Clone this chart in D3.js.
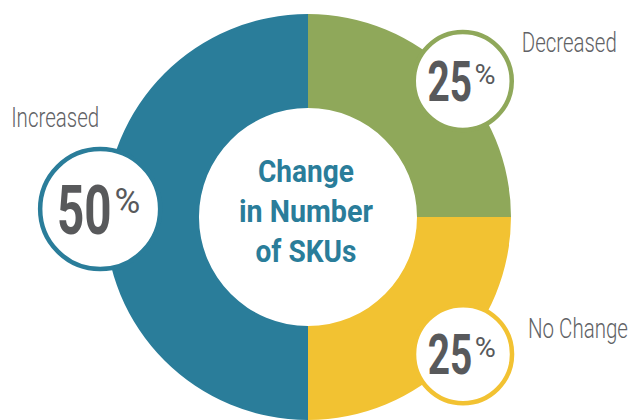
<!DOCTYPE html>
<html>
<head>
<meta charset="utf-8">
<script src="https://cdn.jsdelivr.net/npm/d3@7"></script>
<style>
  body { margin: 0; background: #fff; }
  text { font-family: Roboto, "DejaVu Sans", sans-serif; }
</style>
</head>
<body>
<div id="chart"></div>
<script>
// data
var categories = ["Increased", "Decreased", "No Change"];
var shares = [50, 25, 25];
var colors = ["#2a7d9a", "#8fa85a", "#f2c232"];
var centerTitle = ["Change", "in Number", "of SKUs"];

// dimensions
var width = 629;
var height = 420;
var cx = 308, cy = 217;
var outerR = 203, innerR = 109;

// bubble / label placement (relative to each slice)
var bubbleNudge = [2.2, 3.7, -3.5];   // degrees off the slice middle
var bubbleDist = [208, 206, 207];
var labelPos = [
  {dx: -89, dy: -82, len: 88},
  {dx: 59, dy: -29, len: 95},
  {dx: 65, dy: -16, len: 100}
];
var titleLen = [96, 134, 101];

var data = categories.map(function(c, i) {
  return {name: c, value: shares[i], color: colors[i], i: i};
});

// squeeze a text horizontally so it has the width w (condensed look)
function fit(sel, x, y, w) {
  sel.each(function(d, i) {
    var node = this;
    var xx = typeof x === "function" ? x(d, i) : x;
    var yy = typeof y === "function" ? y(d, i) : y;
    var ww = typeof w === "function" ? w(d, i) : w;
    var nat = node.getComputedTextLength();
    d3.select(node).attr("transform",
      "translate(" + xx + "," + yy + ") scale(" + (ww / nat) + ",1)");
  });
}

var svg = d3.select("#chart").append("svg")
    .attr("width", width)
    .attr("height", height);

var g = svg.append("g").attr("transform", "translate(" + cx + "," + cy + ")");

var pie = d3.pie()
    .sort(null)
    .value(function(d) { return d.value; })
    .startAngle(Math.PI)
    .endAngle(3 * Math.PI);

var arc = d3.arc().innerRadius(innerR).outerRadius(outerR);

var slices = pie(data);

g.selectAll("path.slice")
  .data(slices)
  .enter().append("path")
    .attr("class", "slice")
    .attr("d", arc)
    .attr("fill", function(d) { return d.data.color; });

// center title
g.selectAll("text.title")
  .data(centerTitle)
  .enter().append("text")
    .attr("class", "title")
    .attr("fill", colors[0])
    .attr("font-weight", "bold")
    .attr("font-size", 31)
    .text(function(d) { return d; })
    .call(fit, function(d, i) { return -2 - titleLen[i] / 2; },
               function(d, i) { return -35 + i * 40; },
               function(d, i) { return titleLen[i]; });

// bubble radius grows with the share
var rScale = d3.scaleLinear().domain([25, 50]).range([49, 60]);

var bubbles = g.selectAll("g.bubble")
  .data(slices)
  .enter().append("g")
    .attr("class", "bubble")
    .attr("transform", function(d) {
      var a = (d.startAngle + d.endAngle) / 2 + bubbleNudge[d.data.i] * Math.PI / 180;
      var r = bubbleDist[d.data.i];
      return "translate(" + (Math.sin(a) * r) + "," + (-Math.cos(a) * r) + ")";
    });

bubbles.append("circle")
    .attr("r", function(d) { return rScale(d.value); })
    .attr("fill", "#fff")
    .attr("stroke", function(d) { return d.data.color; })
    .attr("stroke-width", 4.5);

// percentage number + small % sign
bubbles.append("text")
    .attr("fill", "#58595b")
    .attr("font-weight", "bold")
    .attr("font-size", function(d) { return rScale(d.value) * 1.13; })
    .text(function(d) { return d.value; })
    .call(fit, function(d) { return -rScale(d.value) * 0.72; },
               function(d) { return rScale(d.value) * 0.41; },
               function(d) { return rScale(d.value) * 0.91; });

bubbles.append("text")
    .attr("fill", "#58595b")
    .attr("font-size", function(d) { return rScale(d.value) * 0.58; })
    .text("%")
    .call(fit, function(d) { return rScale(d.value) * 0.24; },
               function(d) { return rScale(d.value) * 0.06; },
               function(d) { return rScale(d.value) * 0.43; });

// category labels
bubbles.append("text")
    .attr("fill", "#616265")
    .attr("font-weight", 300)
    .attr("font-size", 27)
    .text(function(d) { return d.data.name; })
    .call(fit, function(d) { return labelPos[d.data.i].dx; },
               function(d) { return labelPos[d.data.i].dy; },
               function(d) { return labelPos[d.data.i].len; });
</script>
</body>
</html>
